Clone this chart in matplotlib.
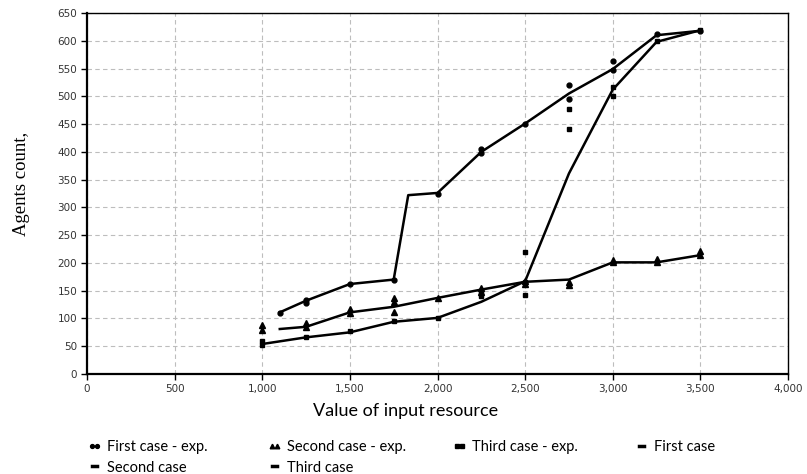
import matplotlib
matplotlib.use('Agg')
import matplotlib.pyplot as plt
from matplotlib.lines import Line2D

# model curves
first_x = [1100, 1250, 1500, 1750, 1833, 2000, 2250, 2500, 2750, 3000, 3250, 3500]
first_y = [111, 132, 162, 170, 322, 326, 400, 451, 505, 549, 610, 618]
second_x = [1100, 1250, 1500, 1750, 2000, 2250, 2500, 2750, 3000, 3250, 3500]
second_y = [81, 85, 111, 121, 137, 152, 166, 170, 201, 201, 214]
third_x = [1000, 1250, 1500, 1750, 2000, 2250, 2500, 2750, 3000, 3250, 3500]
third_y = [54, 66, 75, 94, 101, 130, 167, 361, 512, 598, 619]

# experimental points
first_exp_x = [1100, 1250, 1250, 1500, 1750, 2000, 2250, 2250, 2500, 2750, 2750, 3000, 3000, 3250, 3500]
first_exp_y = [110, 133, 128, 162, 170, 325, 405, 398, 450, 521, 495, 563, 548, 613, 618]
second_exp_x = [1000, 1000, 1250, 1250, 1500, 1500, 1750, 1750, 1750, 2000, 2250, 2250,
                2500, 2500, 2750, 2750, 3000, 3000, 3250, 3250, 3500, 3500]
second_exp_y = [88, 80, 92, 84, 117, 110, 136, 130, 112, 137, 155, 147,
                168, 162, 166, 161, 205, 201, 207, 201, 222, 214]
third_exp_x = [1000, 1000, 1250, 1500, 1750, 2000, 2250, 2250, 2500, 2500, 2500,
               2750, 2750, 3000, 3000, 3250, 3500]
third_exp_y = [60, 52, 67, 78, 95, 100, 148, 141, 220, 165, 142,
               477, 442, 516, 500, 600, 620]

x_ticks = list(range(0, 4001, 500))
y_ticks = list(range(0, 651, 50))

fig = plt.figure(figsize=(8.07, 4.74), dpi=100)
ax = fig.add_axes([87/807, 1 - 374/474, (788 - 87)/807, (374 - 13)/474])

ax.plot(first_x, first_y, color='black', lw=1.8, zorder=3)
ax.plot(second_x, second_y, color='black', lw=1.8, zorder=3)
ax.plot(third_x, third_y, color='black', lw=1.8, zorder=3)

ax.plot(first_exp_x, first_exp_y, 'o', color='black', ms=3.5, zorder=4)
ax.plot(second_exp_x, second_exp_y, '^', color='black', ms=4, zorder=4)
ax.plot(third_exp_x, third_exp_y, 's', color='black', ms=3.3, zorder=4)

ax.set_xlim(0, 4000)
ax.set_ylim(0, 650)
ax.set_xticks(x_ticks)
ax.set_yticks(y_ticks)
ax.set_xticklabels([f'{v:,}' for v in x_ticks])
ax.set_yticklabels([str(v) for v in y_ticks])
ax.tick_params(direction='out', length=4, width=1, labelsize=7.5, labelcolor='#333333',
               pad=3)
for lab in ax.get_xticklabels() + ax.get_yticklabels():
    lab.set_family('DejaVu Sans')

ax.grid(True, color='#bdbdbd', linestyle=(0, (4, 3)), lw=0.8)
ax.set_axisbelow(True)
for s in ['left', 'bottom']:
    ax.spines[s].set_linewidth(1.6)
for s in ['top', 'right']:
    ax.spines[s].set_linewidth(1.0)

fig.text(406/807, 1 - 411/474, 'Value of input resource', ha='center', va='center',
         fontsize=13, family='Lato')
fig.text(22/807, 1 - 184/474, 'Agents count,', rotation=90, ha='center', va='center',
         fontsize=13.5, family=['Liberation Serif', 'DejaVu Serif'])

# legend, one per column
handles = [
    Line2D([], [], marker='o', ls='none', color='black', ms=2.8),
    Line2D([], [], marker='^', ls='none', color='black', ms=3.3),
    Line2D([], [], marker='s', ls='none', color='black', ms=2.8),
    Line2D([], [], color='black', lw=2.5),
    Line2D([], [], color='black', lw=2.5),
    Line2D([], [], color='black', lw=2.5),
]
labels = ['First case - exp.', 'Second case - exp.', 'Third case - exp.', 'First case',
          'Second case', 'Third case']
columns = [[0, 4], [1, 5], [2], [3]]
col_x = [88, 268, 453, 635]
for cx, idx in zip(col_x, columns):
    fig.legend([handles[i] for i in idx], [labels[i] for i in idx],
               loc='upper left', bbox_to_anchor=(cx/807, 1 - 440/474),
               frameon=False, numpoints=2, handlelength=0.9, handletextpad=0.4,
               borderaxespad=0, borderpad=0, labelspacing=0.45,
               prop={'family': 'Lato', 'size': 10.5})

fig.savefig('out.png', dpi=100)
